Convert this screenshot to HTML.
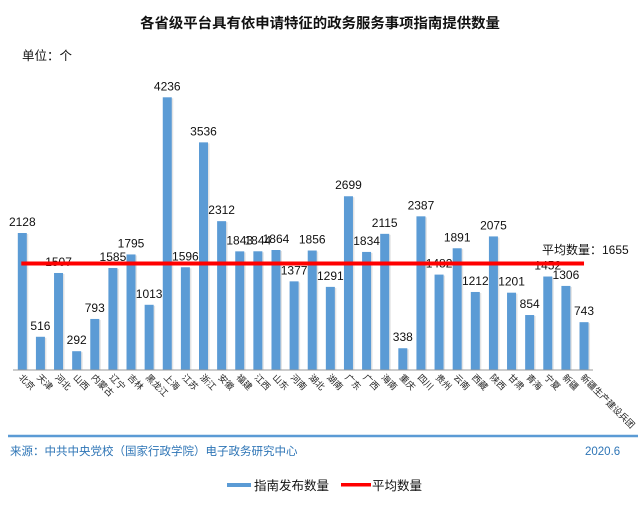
<!DOCTYPE html>
<html><head><meta charset="utf-8"><style>
body{margin:0;background:#fff;width:641px;height:500px;overflow:hidden}
svg text{font-family:"Liberation Sans","Noto Sans CJK SC",sans-serif}
</style></head><body>
<svg id="chart" width="641" height="500" xmlns="http://www.w3.org/2000/svg">
<text x="320" y="28" text-anchor="middle" font-size="14.4" font-weight="bold" fill="#111">各省级平台具有依申请特征的政务服务事项指南提供数量</text>
<text x="22" y="60" font-size="12.5" fill="#111">单位：个</text>
<g id="bars"></g>
<g id="vals"></g>
<g id="cats"></g>
<line x1="13" y1="370" x2="593" y2="370" stroke="#999" stroke-width="1"/>
<line id="avg" stroke="#ff0000" stroke-width="4"/>
<text id="avgLabel" x="542" y="254" font-size="12" fill="#111"></text>
<line x1="8" y1="436" x2="638" y2="436" stroke="#5b9bd5" stroke-width="2.5"/>
<text x="10" y="455" font-size="11.5" fill="#2e75b6">来源：中共中央党校（国家行政学院）电子政务研究中心</text>
<text x="585" y="455" font-size="11.5" fill="#2e75b6">2020.6</text>
<g>
<rect x="227" y="483" width="24" height="4" fill="#5b9bd5"/>
<text x="254" y="490" font-size="12.5" fill="#111">指南发布数量</text>
<rect x="341" y="483" width="30" height="3.5" fill="#ff0000"/>
<text x="372" y="490" font-size="12.5" fill="#111">平均数量</text>
</g>
</svg>
<script>
const categories=["北京","天津","河北","山西","内蒙古","辽宁","吉林","黑龙江","上海","江苏","浙江","安徽","福建","江西","山东","河南","湖北","湖南","广东","广西","海南","重庆","四川","贵州","云南","西藏","陕西","甘肃","青海","宁夏","新疆","新疆生产建设兵团"];
const values=[2128,516,1507,292,793,1585,1795,1013,4236,1596,3536,2312,1843,1844,1864,1377,1856,1291,2699,1834,2115,338,2387,1482,1891,1212,2075,1201,854,1452,1306,743];
const average=[1655];
const NS="http://www.w3.org/2000/svg";
const x0=22.3,step=18.12,baseY=370,k=272.7/4236,bw=9;
const xs=i=>x0+i*step;
const ys=v=>baseY-v*k;
const bars=document.getElementById('bars'),vals=document.getElementById('vals'),cats=document.getElementById('cats');
function mk(t,a){const e=document.createElementNS(NS,t);for(const n in a)e.setAttribute(n,a[n]);return e;}
values.forEach((v,i)=>{
 const sh=mk('rect',{x:xs(i)-bw/2+1.5,y:ys(v)+1,width:bw,height:baseY-ys(v)-1,fill:'#e4e4e4'});
 
 
 bars.appendChild(sh);
 const r=mk('rect',{x:xs(i)-bw/2,y:ys(v),width:bw,height:baseY-ys(v),fill:'#5b9bd5'});
 
 
 bars.appendChild(r);
 const t=mk('text',{x:xs(i),y:ys(v)-7,'text-anchor':'middle','font-size':'12',fill:'#111'});
 t.textContent=v;
 
 
 vals.appendChild(t);
 const c=mk('text',{x:xs(i)+3,y:baseY+10,'text-anchor':'end','font-size':'9',fill:'#222',transform:'rotate(-45 '+(xs(i)+3)+' '+(baseY+10)+')'});
 c.setAttribute('text-anchor','start');
 c.setAttribute('transform','rotate(45 '+(xs(i)-4)+' '+(baseY+8)+')');
 c.setAttribute('x',xs(i)-4);
 c.setAttribute('y',baseY+8);
 c.textContent=categories[i];
 
 
 cats.appendChild(c);
});
const a=document.getElementById('avg');
a.setAttribute('x1',xs(0)-1);a.setAttribute('x2',xs(values.length-1));
a.setAttribute('y1',ys(average[0]));a.setAttribute('y2',ys(average[0]));
document.getElementById('avgLabel').textContent='平均数量：'+average[0];
</script>
</body></html>
